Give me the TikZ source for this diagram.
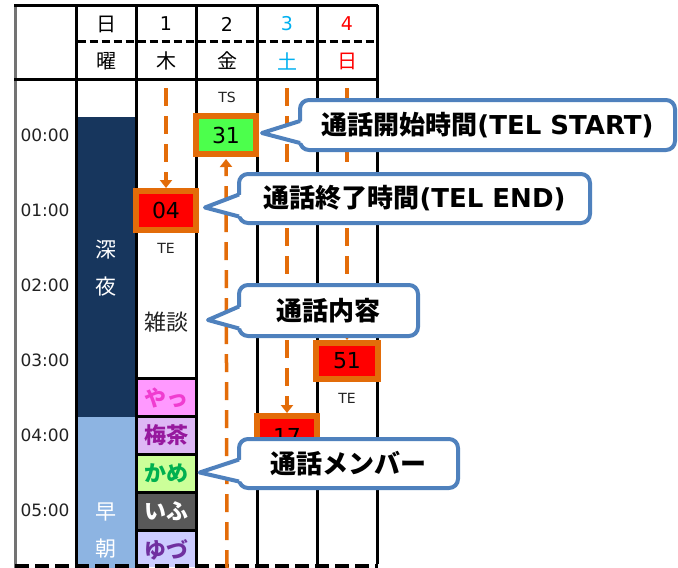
\documentclass[tikz,border=0pt]{standalone}
\usepackage{fontspec}
\setmainfont{DejaVu Sans}
\newfontfamily\jp{Noto Sans CJK JP}
\usetikzlibrary{arrows.meta,calc}
\definecolor{orng}{HTML}{E36C09}
\definecolor{cblue}{HTML}{4F81BD}
\definecolor{navy}{HTML}{17365D}
\definecolor{lblue}{HTML}{8DB4E2}
\definecolor{cyanc}{HTML}{00B0F0}
\definecolor{brgreen}{HTML}{4CFF4C}
\definecolor{txt}{HTML}{222222}
\newcommand\mycallout[2]{%
  \fill[white] ($(#1.west)+(5,-4)$) -- (#2) -- ($(#1.west)+(5,18)$) -- cycle;
  \draw[cedge] ($(#1.west)+(2,-4)$) -- (#2) -- ($(#1.west)+(2,18)$);}
\begin{document}
\begin{tikzpicture}[x=1pt,y=-1pt,
  gridl/.style={line width=3pt, black},
  odash/.style={draw=orng, line width=3.5pt, dash pattern=on 18pt off 10pt},
  otip/.style={-{Triangle[width=12pt,length=8pt]}},
  obox/.style={draw=orng, line width=6pt, minimum width=60pt, minimum height=39pt, inner sep=0pt, font=\fontsize{22}{24}\selectfont},
  lbl/.style={font=\fontsize{14}{16}\selectfont, text=txt},
  tim/.style={font=\fontsize{17}{20}\selectfont, text=txt},
  hdr/.style={font=\jp\fontsize{20}{24}\selectfont},
  hnum/.style={font=\fontsize{19}{22}\selectfont},
  band/.style={font=\jp\fontsize{21}{24}\selectfont, text=white},
  mcell/.style={minimum width=57pt, minimum height=35pt, inner sep=0pt, font=\jp\bfseries\fontsize{22}{24}\selectfont},
  cbox/.style={draw=cblue, fill=white, line width=4pt, rounded corners=9pt, inner sep=0pt, font=\fontsize{26}{28}\selectfont},
  cedge/.style={draw=cblue, line width=4pt, line join=round},
]
\useasboundingbox (0,0) rectangle (678,568);
\fill[white] (0,0) rectangle (678,568);
% day band
\fill[navy] (76,117) rectangle (136,417);
\fill[lblue] (76,417) rectangle (136,568);
\node[band] (shin) at (106,250) {深};
\node[band] (ya) at (106,287) {夜};
\node[band] (haya) at (106,512) {早};
\node[band] (asa) at (106,549) {朝};
% member cells
\node[mcell, fill={rgb,255:red,255;green,153;blue,255}, text={rgb,255:red,240;green,60;blue,208}] (m1) at (166,397.5) {やっ};
\node[mcell, fill={rgb,255:red,222;green,184;blue,245}, text={rgb,255:red,150;green,24;blue,158}] (m2) at (166,435.5) {梅茶};
\node[mcell, fill={rgb,255:red,204;green,255;blue,153}, text={rgb,255:red,0;green,176;blue,80}] (m3) at (166,473.5) {かめ};
\node[mcell, fill={rgb,255:red,89;green,89;blue,89}, text=white] (m4) at (166,511.5) {いふ};
\node[mcell, fill={rgb,255:red,204;green,204;blue,255}, text={rgb,255:red,112;green,48;blue,160}] (m5) at (166,549.5) {ゆづ};
\foreach \yy in {378.5,416.5,454.5,492.5,530.5} \draw[gridl] (136,\yy) -- (196,\yy);
% grid
\draw[line width=3pt, black!55] (15,4) -- (15,568);
\draw[gridl] (14,5) -- (378,5);
\draw[gridl] (14,79) -- (378,79);
\foreach \xx in {76,136,196,257,317,377} \draw[gridl] (\xx,5) -- (\xx,564);
\draw[line width=3pt, dash pattern=on 8pt off 4pt] (77.5,41) -- (377,41);
\draw[line width=5pt, dash pattern=on 14pt off 6pt] (15,566) -- (378,566);
% header
\node[hdr] (h0a) at (106,24) {日};
\node[hnum] (h1a) at (166,24) {1};
\node[hnum] (h2a) at (227,24) {2};
\node[hnum, text=cyanc] (h3a) at (287,24) {3};
\node[hnum, text=red] (h4a) at (347,24) {4};
\node[hdr] (h0b) at (106,61) {曜};
\node[hdr] (h1b) at (166,61) {木};
\node[hdr] (h2b) at (227,61) {金};
\node[hdr, text=cyanc] (h3b) at (287,61) {土};
\node[hdr, text=red] (h4b) at (347,61) {日};
% times
\node[tim] (t0) at (45,135) {00:00};
\node[tim] (t1) at (45,210) {01:00};
\node[tim] (t2) at (45,285) {02:00};
\node[tim] (t3) at (45,360) {03:00};
\node[tim] (t4) at (45,435) {04:00};
\node[tim] (t5) at (45,510) {05:00};
% chat
\node[font=\jp\fontsize{22}{24}\selectfont, text=txt] (zt) at (166,322) {雑談};
% boxes
\node[obox, fill=red] (b04) at (166,210.5) {04};
\node[obox, fill=brgreen, minimum height=38pt] (b31) at (226,135) {31};
\node[obox, fill=red, minimum width=62pt, minimum height=36pt] (b51) at (347,361) {51};
\node[obox, fill=red, minimum height=40pt] (b17) at (287,436) {17};
\node[lbl] (ts) at (227,97) {TS};
\node[lbl] (te1) at (166,248) {TE};
\node[lbl] (te2) at (347,398) {TE};
% dashed orange arrows
\coordinate (s1) at (166,88);
\coordinate (s2) at (227,568);
\coordinate (s3) at (287,88);
\coordinate (s4) at (347,88);
\draw[odash, otip] (s1) -- (b04.north);
\draw[odash, otip] (s2) -- ($(b31.south)+(0,2)$);
\draw[odash, otip] (s3) -- (b17.north);
\draw[odash, otip] (s4) -- (b51.north);
% callouts
\node[cbox, minimum width=375pt, minimum height=50pt] (c1) at (487.5,125) {{\jp\bfseries 通話開始時間}\textbf{(TEL START)}};
\node[cbox, minimum width=351pt, minimum height=49pt] (c2) at (414.5,198.5) {{\jp\bfseries 通話終了時間}\textbf{(TEL END)}};
\node[cbox, minimum width=179pt, minimum height=51pt] (c3) at (328.5,310.5) {{\jp\bfseries 通話内容}};
\node[cbox, minimum width=219pt, minimum height=49pt] (c4) at (348.5,463.5) {{\jp\bfseries 通話メンバー}};
\coordinate (p1) at ($(b31.east)+(3,-2)$);
\coordinate (p2) at ($(b04.east)+(6,-3)$);
\coordinate (p3) at (208,320);
\coordinate (p4) at ($(m3.east)+(5,-1)$);
\mycallout{c1}{p1}
\mycallout{c2}{p2}
\mycallout{c3}{p3}
\mycallout{c4}{p4}
\end{tikzpicture}
\end{document}
